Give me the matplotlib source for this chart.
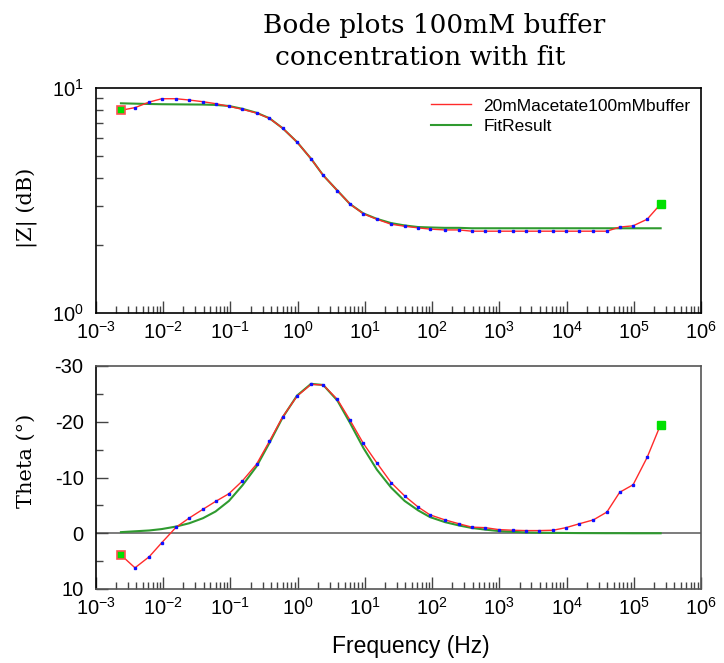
import matplotlib
matplotlib.use('Agg')
import matplotlib.pyplot as plt
from matplotlib.ticker import LogLocator, FixedLocator, MultipleLocator, NullFormatter, LogFormatterSciNotation

# ---------------- data ----------------
freq = [0.00235, 0.0038, 0.0062, 0.0095, 0.0155, 0.0245, 0.039, 0.06, 0.095, 0.151,
        0.245, 0.38, 0.6, 0.98, 1.58, 2.4, 3.9, 6.0, 9.5, 15.1,
        24.5, 39, 62, 93, 155, 251, 389, 617, 977, 1585,
        2455, 3890, 6310, 9770, 15500, 25100, 39800, 61700, 97700, 158000,
        251000]

mag_data = [7.96, 8.18, 8.66, 8.96, 8.96, 8.84, 8.69, 8.52, 8.29, 8.04,
            7.74, 7.33, 6.62, 5.75, 4.85, 4.09, 3.50, 3.05, 2.76, 2.61,
            2.48, 2.43, 2.39, 2.36, 2.34, 2.34, 2.31, 2.31, 2.31, 2.31,
            2.31, 2.31, 2.31, 2.31, 2.31, 2.31, 2.31, 2.41, 2.44, 2.61,
            3.05]

mag_fit = [8.55, 8.52, 8.49, 8.47, 8.46, 8.45, 8.44, 8.41, 8.32, 8.08,
           7.76, 7.34, 6.62, 5.75, 4.85, 4.09, 3.50, 3.05, 2.77, 2.62,
           2.51, 2.45, 2.41, 2.40, 2.39, 2.39, 2.38, 2.38, 2.38, 2.38,
           2.38, 2.38, 2.38, 2.38, 2.38, 2.38, 2.38, 2.38, 2.38, 2.38,
           2.38]

theta_data = [3.9, 6.2, 4.2, 1.7, -1.07, -2.75, -4.3, -5.7, -7.1, -9.4,
              -12.4, -16.5, -20.9, -24.6, -26.7, -26.6, -24.0, -20.3, -16.1, -12.6,
              -9.1, -6.7, -4.7, -3.3, -2.4, -1.7, -1.1, -1.0, -0.66, -0.54,
              -0.48, -0.48, -0.54, -1.0, -1.7, -2.4, -3.8, -7.35, -8.7, -13.6,
              -19.5]

theta_fit = [-0.2, -0.35, -0.5, -0.75, -1.2, -1.8, -2.7, -3.9, -5.8, -8.6,
             -12.0, -16.2, -20.8, -24.7, -26.8, -26.6, -23.8, -19.8, -15.3, -11.4,
             -8.2, -5.8, -4.1, -2.9, -2.0, -1.4, -0.95, -0.65, -0.4, -0.25,
             -0.15, -0.1, -0.07, -0.05, -0.03, -0.02, -0.01, -0.01, 0.0, 0.0,
             0.0]

data_label = '20mMacetate100mMbuffer'
fit_label = 'FitResult'
title_lines = ['Bode plots 100mM buffer', 'concentration with fit']
ylabel_top = '|Z| (dB)'
ylabel_bot = 'Theta (°)'
xlabel = 'Frequency (Hz)'
theta_ticks = [-30, -20, -10, 0, 10]

# ---------------- style ----------------
plt.rcParams['font.family'] = ['Liberation Sans', 'DejaVu Sans']
plt.rcParams['mathtext.fontset'] = 'custom'
plt.rcParams['mathtext.rm'] = 'Liberation Sans'
plt.rcParams['mathtext.it'] = 'Liberation Sans:italic'
plt.rcParams['mathtext.bf'] = 'Liberation Sans:bold'
plt.rcParams['axes.unicode_minus'] = False

W, H = 724, 663
fig = plt.figure(figsize=(W / 100, H / 100), dpi=100)
ax1 = fig.add_axes([96 / W, 1 - 313 / H, 605 / W, 225 / H])
ax2 = fig.add_axes([96 / W, 1 - 589 / H, 605 / W, 223 / H])

RED = '#ff2a2a'
GREEN = '#2f9a2f'
BLUE = '#1010ff'

for ax in (ax1, ax2):
    ax.set_xscale('log')
    ax.set_xlim(1e-3, 1e6)
    ax.xaxis.set_major_locator(LogLocator(base=10, numticks=100))
    ax.xaxis.set_minor_locator(LogLocator(base=10, subs=range(2, 10), numticks=100))
    ax.xaxis.set_minor_formatter(NullFormatter())
    ax.tick_params(which='both', direction='in', top=False, right=False,
                   color='#444444', labelsize=14.5)
    ax.tick_params(which='major', length=8.5, width=1)
    ax.tick_params(which='minor', length=5, width=1)
    ax.tick_params(axis='x', pad=6)
    ax.tick_params(axis='y', pad=9)
    for s in ax.spines.values():
        s.set_linewidth(1.2)

# ---- top panel ----
ax1.set_yscale('log')
ax1.set_ylim(1, 10)
ax1.yaxis.set_major_locator(FixedLocator([1, 10]))
ax1.yaxis.set_major_formatter(LogFormatterSciNotation())
ax1.yaxis.set_minor_locator(LogLocator(base=10, subs=range(2, 10), numticks=100))
ax1.yaxis.set_minor_formatter(NullFormatter())
ax1.tick_params(axis='y', which='major', length=0)

ax1.plot(freq, mag_fit, color=GREEN, lw=1.5, zorder=2, label=fit_label)
ax1.plot(freq, mag_data, color=RED, lw=1.0, zorder=3, label=data_label)
ax1.plot(freq, mag_data, ls='none', marker='s', ms=2, mfc=BLUE, mec=BLUE, zorder=4)
ax1.plot([freq[0]], [mag_data[0]], ls='none', marker='s', ms=6, mfc='#00e000',
         mec='#ff5050', mew=1.2, zorder=5)
ax1.plot([freq[-1]], [mag_data[-1]], ls='none', marker='s', ms=6, mfc='#00e000',
         mec='#00e000', zorder=5)
h, l = ax1.get_legend_handles_labels()
ax1.legend([h[1], h[0]], [l[1], l[0]], loc='upper right', frameon=False,
           fontsize=12.5, handlelength=2.3, handletextpad=0.7,
           labelspacing=0.3, borderaxespad=0.3, borderpad=0.3)

# ---- bottom panel ----
ax2.set_ylim(10, -30)
ax2.yaxis.set_major_locator(FixedLocator(theta_ticks))
ax2.yaxis.set_minor_locator(MultipleLocator(5))
ax2.axhline(0, color='#666666', lw=1.2, zorder=1)
ax2.plot(freq, theta_fit, color=GREEN, lw=1.5, zorder=2)
ax2.plot(freq, theta_data, color=RED, lw=1.0, zorder=3)
ax2.plot(freq, theta_data, ls='none', marker='s', ms=2, mfc=BLUE, mec=BLUE, zorder=4)
ax2.plot([freq[0]], [theta_data[0]], ls='none', marker='s', ms=6, mfc='#00e000',
         mec='#ff5050', mew=1.2, zorder=5)
ax2.plot([freq[-1]], [theta_data[-1]], ls='none', marker='s', ms=6, mfc='#00e000',
         mec='#00e000', zorder=5)
for side in ('top', 'right', 'bottom'):
    ax2.spines[side].set_color('#555555')

# ---- texts ----
fig.text(434 / W, 1 - 33 / H, title_lines[0], family='DejaVu Serif', fontsize=19,
         ha='center', va='baseline')
fig.text(420 / W, 1 - 65 / H, title_lines[1], family='DejaVu Serif', fontsize=19,
         ha='center', va='baseline')
fig.text(27 / W, 1 - 208 / H, ylabel_top, family='DejaVu Serif', fontsize=15,
         rotation=90, ha='center', va='center')
fig.text(26 / W, 1 - 461 / H, ylabel_bot, family='DejaVu Serif', fontsize=15,
         rotation=90, ha='center', va='center')
fig.text(411 / W, 1 - 647 / H, xlabel, fontsize=16.5, ha='center', va='center')

fig.savefig('out.png', dpi=100)
